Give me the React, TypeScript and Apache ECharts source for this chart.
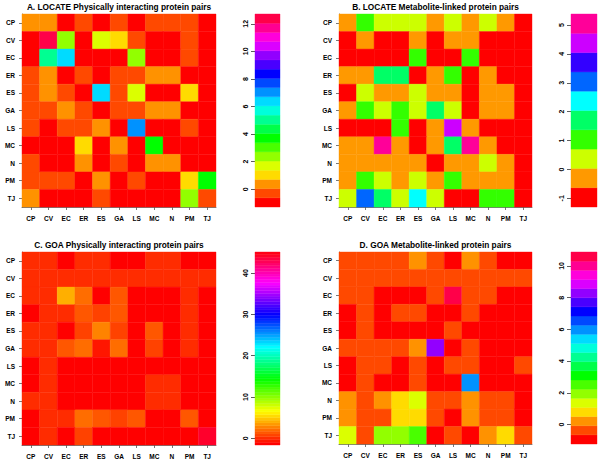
import React, { useEffect, useRef } from "react";
import * as echarts from "echarts";

const CATS = ["CP", "CV", "EC", "ER", "ES", "GA", "LS", "MC", "N", "PM", "TJ"];

const TITLES = [
  "A. LOCATE Physically interacting protein pairs",
  "B. LOCATE Metabolite-linked protein pairs",
  "C. GOA Physically interacting protein pairs",
  "D. GOA Metabolite-linked protein pairs",
];

// Panel A: LOCATE physically interacting (rows CP..TJ, cols CP..TJ)
const A_VALUES = [
  [0.33, 0.33, -1, -0.33, -1, -0.33, -1, -0.33, -0.33, -0.33, -1],
  [-1, 12.33, 2.33, -1, 1.67, 1, -0.33, -1, -1, -0.33, -1],
  [-1, 5, 6.33, -1, -1, -1, 2.33, -1, -1, -0.33, -1],
  [-0.33, 0.33, -1, -0.33, -1, -0.33, -0.33, 0.33, 0.33, -1, -1],
  [-0.33, 0.33, -0.33, -1, 6.33, -0.33, 1.67, -1, -1, 1, -1],
  [-0.33, -0.33, 0.33, -0.33, -1, -0.33, -0.33, 0.33, 0.33, -1, -1],
  [-0.33, -1, -0.33, -0.33, 0.33, -1, 7, -1, -1, -0.33, -1],
  [-1, -1, -1, 1, -1, 0.33, -1, 3.67, -1, -1, -1],
  [-0.33, -1, -1, 0.33, -1, -0.33, -1, 0.33, 0.33, -1, -1],
  [-0.33, -0.33, -0.33, -1, 0.33, -1, -0.33, -1, -1, 1, 3.67],
  [0.33, -1, -1, -1, -0.33, -1, -1, -1, -1, 2.33, -0.33],
];

// Panel B: LOCATE metabolite-linked
const B_VALUES = [
  [-0.33, 1, 0.33, 0.33, 0.33, -0.33, 0.33, -0.33, 0.33, -0.33, -1],
  [-1, -0.33, -1, -1, -0.33, -1, -0.33, -0.33, -1, -1, -1],
  [-1, -1, -1, -1, 1, -1, -1, 1, -1, -1, -1],
  [-0.33, -0.33, 1.67, 1.67, -1, -0.33, 1, -1, -0.33, -1, -1],
  [-1, 0.33, -0.33, -0.33, 0.33, -0.33, -0.33, -1, -0.33, -0.33, -1],
  [-0.33, 1, 0.33, 1, 0.33, 1.67, 0.33, -1, -0.33, -0.33, -1],
  [-1, -1, -1, 1, -1, -0.33, 4.33, -0.33, -1, -1, -1],
  [-0.33, -0.33, 5, -0.33, -1, -0.33, 1.67, 5, -0.33, -1, -1],
  [-0.33, -0.33, -0.33, -0.33, -0.33, -1, -0.33, -0.33, 0.33, -0.33, -1],
  [-0.33, 1, 0.33, -0.33, 0.33, -0.33, 1, -0.33, -0.33, -0.33, -1],
  [0.33, 3, 1.67, 0.33, 2.33, 0.33, -1, -1, 1, 1, -1],
];

// Panel C: GOA physically interacting
const C_VALUES = [
  [0, 0, -1.33, 0, 0, -1.33, -1.33, 0, 0, -1.33, -1.33],
  [0, 0, 0, 0, 0, 0, 0, 0, 0, 0, 0],
  [0, 0, 4, 2, -1.33, 1.33, -1.33, -1.33, -1.33, 0, -1.33],
  [-1.33, 0, 0, 1.33, 0.67, 1.33, -1.33, -1.33, -1.33, 0, -1.33],
  [0, 0, -1.33, 0.67, 2.67, 0.67, -1.33, 1.33, -1.33, 0, -1.33],
  [0, 0, 1.33, 2, -0.67, 2, -1.33, 0.67, -1.33, 0, -1.33],
  [-1.33, 0, -1.33, -1.33, -1.33, -1.33, -1.33, -1.33, -1.33, -1.33, -1.33],
  [-1.33, 0, -1.33, -1.33, -1.33, -1.33, -1.33, 0, 0, -1.33, -1.33],
  [0, 0, -1.33, -1.33, -1.33, -1.33, -1.33, 0, 0, -1.33, -1.33],
  [-1.33, 0, 0, 2, 1.33, 0.67, 1.33, -1.33, -1.33, 1.33, -1.33],
  [-1.33, 0, -1.33, 0.67, -1.33, -1.33, -1.33, -1.33, -1.33, -1.33, 44],
];

// Panel D: GOA metabolite-linked
const D_VALUES = [
  [-0.36, -0.36, -0.36, -0.36, 0.22, -0.36, -0.93, 0.22, -0.36, -0.93, -0.93],
  [-0.36, -0.36, -0.36, -0.36, -0.36, -0.36, -0.36, -0.36, -0.36, -0.36, -0.36],
  [-0.36, -0.36, -0.93, -0.93, -0.93, -0.36, 10.6, -0.36, -0.36, -0.93, -0.93],
  [-0.93, -0.36, -0.93, -0.36, -0.36, -0.93, -0.93, -0.36, -0.93, -0.93, -0.93],
  [-0.93, -0.36, -0.93, -0.93, -0.93, -0.93, -0.36, -0.93, -0.93, -0.93, -0.93],
  [-0.36, -0.36, -0.36, -0.36, 0.22, 8.28, -0.93, -0.36, -0.93, -0.93, -0.93],
  [-0.93, -0.36, -0.36, -0.93, -0.36, -0.93, -0.36, -0.36, -0.93, -0.93, -0.36],
  [-0.93, -0.36, -0.93, -0.93, -0.36, -0.93, -0.93, 5.98, -0.93, -0.93, -0.93],
  [0.22, -0.36, 0.22, 0.79, 1.37, -0.36, -0.36, 0.22, -0.36, -0.36, -0.93],
  [0.22, -0.36, -0.36, 0.79, 0.79, -0.36, -0.93, 0.22, -0.36, -0.36, -0.93],
  [1.37, -0.36, 1.95, 1.95, 2.52, -0.93, -0.36, -0.93, 0.22, 0.79, -0.36],
];

// colour-key ranges [low, high] and number of colour steps
const RANGE_A = [-1.29, 12.71];
const RANGE_B = [-1.3, 5.38];
const RANGE_C = [-1.6, 45.1];
const RANGE_D = [-1.22, 10.88];
const STEPS = [21, 10, 70, 21];

const TICKS_A = [0, 2, 4, 6, 8, 10, 12];
const TICKS_B = [-1, 0, 1, 2, 3, 4, 5];
const TICKS_C = [0, 10, 20, 30, 40];
const TICKS_D = [0, 2, 4, 6, 8, 10];

function rainbow(i: number, n: number): string {
  const h = (i / n) * 6;
  const k = Math.floor(h);
  const f = h - k;
  let r = 0, g = 0, b = 0;
  switch (k % 6) {
    case 0: r = 1; g = f; b = 0; break;
    case 1: r = 1 - f; g = 1; b = 0; break;
    case 2: r = 0; g = 1; b = f; break;
    case 3: r = 0; g = 1 - f; b = 1; break;
    case 4: r = f; g = 0; b = 1; break;
    default: r = 1; g = 0; b = 1 - f; break;
  }
  const hx = (x: number) => Math.round(x * 255).toString(16).padStart(2, "0");
  return "#" + hx(r) + hx(g) + hx(b);
}

function colorFor(v: number, lo: number, hi: number, n: number): string {
  let i = Math.floor(((v - lo) / (hi - lo)) * n);
  if (i < 0) i = 0;
  if (i > n - 1) i = n - 1;
  return rainbow(i, n);
}

const FONT = "Liberation Sans, Arial, Helvetica, sans-serif";

export default function App() {
  const ref = useRef<HTMLDivElement>(null);
  useEffect(() => {
    if (!ref.current) return;
    const chart = echarts.init(ref.current, undefined, { renderer: "svg" });

    const panels = [
      { vals: A_VALUES, range: RANGE_A, n: STEPS[0], ticks: TICKS_A, heat: { left: 22, top: 14, width: 194, height: 193 }, bar: { left: 255, top: 14, width: 25, height: 193 } },
      { vals: B_VALUES, range: RANGE_B, n: STEPS[1], ticks: TICKS_B, heat: { left: 339, top: 14, width: 193, height: 193 }, bar: { left: 571, top: 14, width: 26, height: 193 } },
      { vals: C_VALUES, range: RANGE_C, n: STEPS[2], ticks: TICKS_C, heat: { left: 22, top: 252, width: 194, height: 193 }, bar: { left: 255, top: 252, width: 25, height: 193 } },
      { vals: D_VALUES, range: RANGE_D, n: STEPS[3], ticks: TICKS_D, heat: { left: 339, top: 252, width: 193, height: 192 }, bar: { left: 571, top: 252, width: 26, height: 192 } },
    ];

    const grid: any[] = [];
    const xAxis: any[] = [];
    const yAxis: any[] = [];
    const series: any[] = [];
    const graphic: any[] = [];

    const catLabel = { fontSize: 6.5, fontWeight: "bold", color: "#000", fontFamily: FONT };

    panels.forEach((p, k) => {
      const gh = k * 2;
      const gb = k * 2 + 1;
      grid.push({ ...p.heat });
      grid.push({ ...p.bar });
      const lo = p.range[0];
      const hi = p.range[1];
      const n = p.n;

      xAxis.push({
        type: "category", gridIndex: gh, data: CATS, position: "bottom",
        axisLine: { show: true, lineStyle: { color: "#555", width: 0.8 } },
        axisTick: { show: true, alignWithLabel: true, length: 3, lineStyle: { color: "#555", width: 0.8 } },
        axisLabel: { ...catLabel, margin: 8, interval: 0 },
        splitLine: { show: false },
      });
      yAxis.push({
        type: "category", gridIndex: gh, data: CATS, inverse: true, position: "left",
        axisLine: { show: true, lineStyle: { color: "#555", width: 0.8 } },
        axisTick: { show: true, alignWithLabel: true, length: 3, lineStyle: { color: "#555", width: 0.8 } },
        axisLabel: { ...catLabel, margin: 7, interval: 0 },
        splitLine: { show: false },
      });
      xAxis.push({
        type: "value", gridIndex: gb, min: 0, max: 1, show: false,
      });
      yAxis.push({
        type: "value", gridIndex: gb, min: lo, max: hi, position: "left",
        axisLine: { show: false },
        splitLine: { show: false },
        axisTick: { show: true, length: 4, customValues: p.ticks, lineStyle: { color: "#333", width: 0.8 } },
        axisLabel: { show: true, customValues: p.ticks, rotate: 90, margin: 6, fontSize: 7, fontWeight: "bold", color: "#000", fontFamily: FONT },
      });

      const cells: number[][] = [];
      p.vals.forEach((row, r) => row.forEach((v, c) => cells.push([c, r, v])));
      series.push({
        type: "custom",
        xAxisIndex: gh, yAxisIndex: gh,
        data: cells,
        encode: { x: 0, y: 1 },
        renderItem: (params: any, api: any) => {
          const pt = api.coord([api.value(0), api.value(1)]);
          const sz = api.size([1, 1]);
          const col = colorFor(api.value(2), lo, hi, n);
          return {
            type: "rect",
            shape: { x: pt[0] - sz[0] / 2, y: pt[1] - sz[1] / 2, width: sz[0], height: sz[1] },
            style: { fill: col, stroke: col, lineWidth: 0.4 },
          };
        },
      });

      const w = (hi - lo) / n;
      const bands: number[][] = [];
      for (let i = 0; i < n; i++) bands.push([i, lo + i * w, lo + (i + 1) * w]);
      series.push({
        type: "custom",
        xAxisIndex: gb, yAxisIndex: gb,
        data: bands,
        encode: { x: -1, y: [1, 2] },
        renderItem: (params: any, api: any) => {
          const a = api.coord([0, api.value(1)]);
          const b = api.coord([1, api.value(2)]);
          const col = rainbow(api.value(0), n);
          return {
            type: "rect",
            shape: { x: a[0], y: b[1], width: b[0] - a[0], height: a[1] - b[1] },
            style: { fill: col, stroke: col, lineWidth: 0.4 },
          };
        },
      });

      graphic.push({
        type: "text",
        x: p.heat.left + p.heat.width / 2,
        y: p.heat.top - 7.5,
        style: {
          text: TITLES[k], textAlign: "center", textVerticalAlign: "middle",
          font: `bold 8.3px ${FONT}`, fill: "#000",
        },
      });
    });

    chart.setOption({
      animation: false,
      backgroundColor: "#fff",
      grid, xAxis, yAxis, series, graphic,
    });
    return () => chart.dispose();
  }, []);

  return (
    <div
      ref={ref}
      style={{ position: "fixed", left: 0, top: 0, width: 600, height: 462 }}
    />
  );
}
